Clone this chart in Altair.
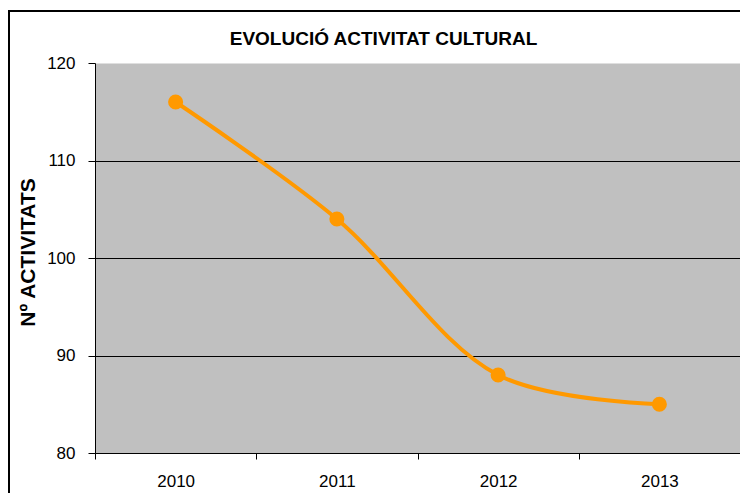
import altair as alt
import pandas as pd

years = ["2010", "2011", "2012", "2013"]
activitats = [116, 104, 88, 85]
y_ticks = [80, 90, 100, 110, 120]

FONT = "Liberation Sans, Arial, sans-serif"
ORANGE = "#FF9900"

df = pd.DataFrame({"any": years, "activitats": activitats})

x_enc = alt.X(
    "any:N",
    sort=years,
    bandPosition=0.5,
    scale=alt.Scale(type="band", paddingInner=0, paddingOuter=0),
    axis=alt.Axis(
        title=None, labelAngle=0, tickBand="extent", ticks=True, tickSize=6,
        tickColor="black", domainColor="black", labelFontSize=17, labelFont=FONT,
        labelColor="black", labelPadding=14, grid=False,
    ),
)
y_enc = alt.Y(
    "activitats:Q",
    scale=alt.Scale(domain=[80, 120], nice=False, zero=False),
    axis=alt.Axis(
        values=y_ticks, title="Nº ACTIVITATS", titleFont=FONT, titleFontSize=21,
        titleFontWeight="bold", titleColor="black", titleX=-67, titleY=189,
        titleBaseline="middle", titleAlign="center", titleAngle=270,
        tickSize=7, tickColor="black", domainColor="black", labelPadding=13,
        labelFontSize=17, labelFont=FONT, labelColor="black",
        grid=True, gridColor="black", gridWidth=1,
        gridOpacity={"condition": {"test": "datum.value >= 120", "value": 0}, "value": 1},
    ),
)

frame = alt.Chart(pd.DataFrame({"k": [0]})).mark_rect(
    fillOpacity=0, stroke="black", strokeWidth=2, clip=False
).encode(
    x=alt.value(-86), x2=alt.value(900), y=alt.value(-52), y2=alt.value(700)
)

base = alt.Chart(df)
line = base.mark_line(color=ORANGE, strokeWidth=4, interpolate="catmull-rom").encode(x=x_enc, y=y_enc)
points = base.mark_circle(size=227, color=ORANGE, opacity=1).encode(x=x_enc, y=y_enc)

chart = alt.layer(frame, line, points).properties(
    width=645,
    height=390,
    autosize="none",
    padding={"left": 87, "top": 55, "right": 0, "bottom": 40},
    background="white",
    title=alt.TitleParams(
        "EVOLUCIÓ ACTIVITAT CULTURAL", fontSize=19, font=FONT, fontWeight="bold",
        color="black", anchor="middle", frame="group", dx=-34, dy=58,
        baseline="bottom", offset=0,
    ),
).configure_view(fill="#C0C0C0", stroke="transparent")

chart.save("out.html", embed_options={"renderer": "svg", "actions": False})
